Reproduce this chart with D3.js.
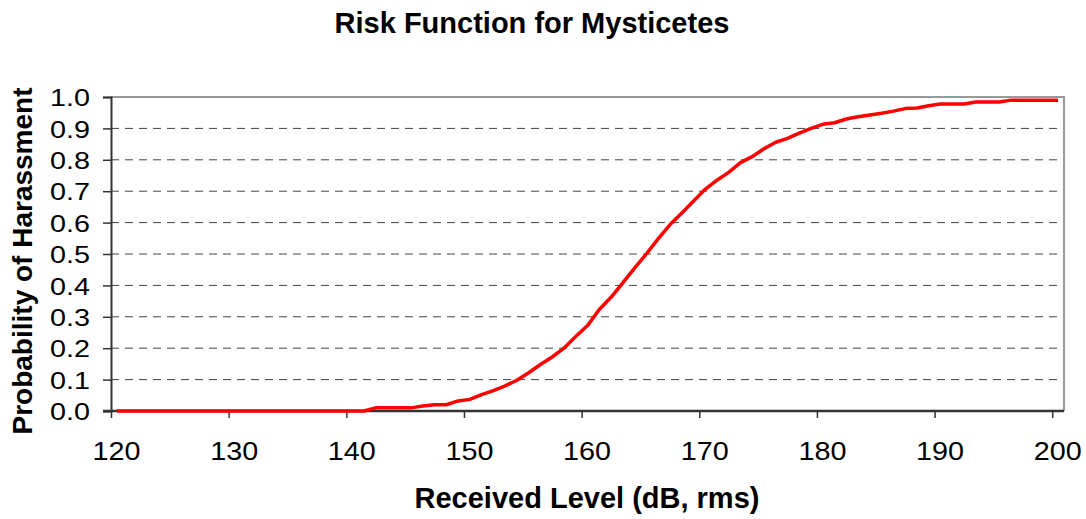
<!DOCTYPE html>
<html><head><meta charset="utf-8">
<script src="https://cdn.jsdelivr.net/npm/d3@7"></script>
<style>body{margin:0;background:#fff}svg{display:block}text{font-family:"Liberation Sans",Arial,sans-serif;fill:#000}</style>
</head><body>
<svg id="c" width="1086" height="519"></svg>
<script>
const title = "Risk Function for Mysticetes";
const xTitle = "Received Level (dB, rms)";
const yTitle = "Probability of Harassment";
const xTicks = [120,130,140,150,160,170,180,190,200];
const yTicks = [0,0.1,0.2,0.3,0.4,0.5,0.6,0.7,0.8,0.9,1.0];
const levels = [120.5,121.5,122.5,123.5,124.5,125.5,126.5,127.5,128.5,129.5,130.5,131.5,132.5,133.5,134.5,135.5,136.5,137.5,138.5,139.5,140.5,141.5,142.5,143.5,144.5,145.5,146.5,147.5,148.5,149.5,150.5,151.5,152.5,153.5,154.5,155.5,156.5,157.5,158.5,159.5,160.5,161.5,162.5,163.5,164.5,165.5,166.5,167.5,168.5,169.5,170.5,171.5,172.5,173.5,174.5,175.5,176.5,177.5,178.5,179.5,180.5,181.5,182.5,183.5,184.5,185.5,186.5,187.5,188.5,189.5,190.5,191.5,192.5,193.5,194.5,195.5,196.5,197.5,198.5,199.5,200.5];
const probability = [0,0,0,0,0,0,0,0,0,0,0,0,0,0,0,0,0,0,0,0,0,0,0.01,0.01,0.01,0.01,0.016,0.02,0.02,0.032,0.037,0.052,0.065,0.08,0.098,0.122,0.148,0.172,0.2,0.237,0.272,0.323,0.362,0.408,0.455,0.5,0.548,0.593,0.63,0.668,0.706,0.735,0.76,0.791,0.81,0.835,0.856,0.868,0.885,0.9,0.913,0.918,0.93,0.937,0.943,0.948,0.955,0.963,0.965,0.972,0.978,0.978,0.978,0.984,0.984,0.984,0.99,0.99,0.99,0.99,0.99];

const svg = d3.select("#c");
const L=111, R=1064, T=97, B=411;
const x = d3.scaleLinear().domain([120,201]).range([L,R]);
const y = d3.scaleLinear().domain([0,1]).range([B,T]);

// gridlines
svg.append("g").selectAll("line").data(yTicks.filter(v=>v>0 && v<1)).join("line")
  .attr("x1",L).attr("x2",R).attr("y1",d=>y(d)).attr("y2",d=>y(d))
  .attr("stroke","#444").attr("stroke-width",1).attr("stroke-dasharray","8,6");
// top & right border
svg.append("path").attr("d",`M${L},${T}H${R}V${B}`).attr("fill","none").attr("stroke","#999").attr("stroke-width",2);

// axes
const yAxis = d3.axisLeft(y).tickValues(yTicks).tickSize(8).tickFormat(d3.format(".1f"));
const gy = svg.append("g").attr("transform",`translate(${L},0)`).call(yAxis);
gy.select(".domain").attr("stroke","#333").attr("stroke-width",2);
gy.selectAll(".tick line").attr("stroke","#333").attr("stroke-width",1.5);
gy.selectAll(".tick text").attr("x",-21).attr("dy","0.36em").style("font-size","24px")
  .attr("font-family","Liberation Sans, Arial, sans-serif")
  .attr("textLength",40).attr("lengthAdjust","spacingAndGlyphs");

const xAxis = d3.axisBottom(x).tickValues(xTicks).tickSize(7).tickFormat(d3.format("d"));
const gx = svg.append("g").attr("transform",`translate(0,${B})`).call(xAxis);
gx.select(".domain").attr("stroke","#333").attr("stroke-width",2.5).attr("d",`M${L-8},0H${R}`);
gx.selectAll(".tick line").attr("stroke","#333").attr("stroke-width",1.5);
gx.selectAll(".tick text").attr("y",49).attr("dy",0).attr("dx",5).style("font-size","25px")
  .attr("font-family","Liberation Sans, Arial, sans-serif")
  .attr("textLength",48).attr("lengthAdjust","spacingAndGlyphs");

// line
const line = d3.line().x((d,i)=>x(levels[i])).y(d=>y(d));
svg.append("path").datum(probability).attr("d",line).attr("fill","none")
  .attr("stroke","#ff0000").attr("stroke-width",3.5).attr("stroke-linejoin","round");

// titles
svg.append("text").attr("x",532).attr("y",33).attr("text-anchor","middle")
  .style("font-size","29px").style("font-weight","bold").text(title);
svg.append("text").attr("x",587).attr("y",508).attr("text-anchor","middle")
  .style("font-size","29px").style("font-weight","bold").text(xTitle);
svg.append("text").attr("transform","translate(32,261) rotate(-90)").attr("text-anchor","middle")
  .style("font-size","28px").style("font-weight","bold").text(yTitle);
</script>
</body></html>
